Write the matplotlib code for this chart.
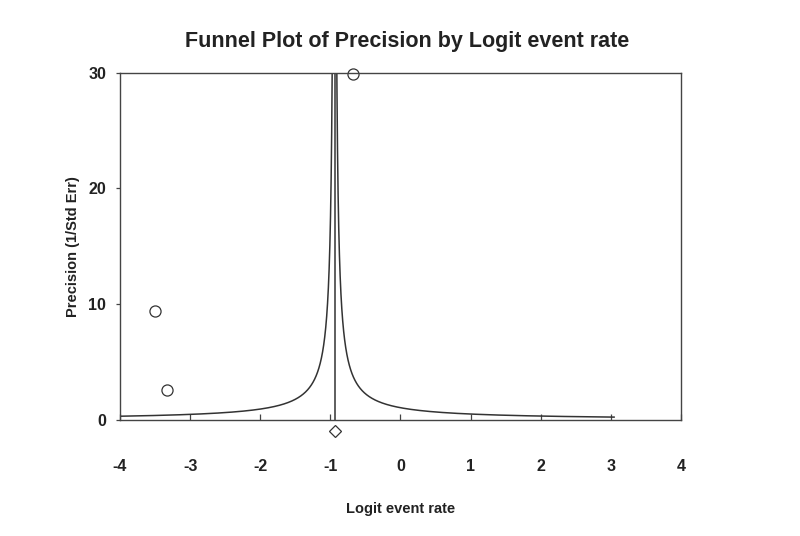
import numpy as np
import matplotlib
matplotlib.use('Agg')
import matplotlib.pyplot as plt

# studies: logit event rate and precision (1/SE)
logit = [-3.50, -3.33, -0.67]
precision = [9.4, 2.6, 29.9]

mean_logit = -0.94
diamond_y = -0.95
funnel_right_end = 3.05

xticks = [-4, -3, -2, -1, 0, 1, 2, 3, 4]
yticks = [0, 10, 20, 30]

plt.rcParams['font.family'] = ['Liberation Sans', 'DejaVu Sans']
plt.rcParams['axes.unicode_minus'] = False
ink = '#333333'

fig = plt.figure(figsize=(8, 5.36), dpi=100)
ax = fig.add_axes([0.15, 0.2164, 0.701, 0.6483])

# funnel lines: x = mean +/- 1/precision
p = np.geomspace(0.05, 30, 6000)
left = mean_logit - 1.0 / p
right = mean_logit + 1.0 / p
ml = left >= -4
mr = right <= funnel_right_end
ax.plot(left[ml], p[ml], color=ink, lw=1.1)
ax.plot(right[mr], p[mr], color=ink, lw=1.1)
ax.plot([mean_logit, mean_logit], [0, 30], color=ink, lw=1.1)

ax.plot(logit, precision, 'o', ms=8, mfc='white', mec=ink, mew=0.9, clip_on=False)
ax.plot([mean_logit], [diamond_y], 'D', ms=6, mfc='white', mec=ink, mew=0.9, clip_on=False)

ax.set_xlim(-4, 4)
ax.set_ylim(0, 30)
ax.set_xticks(xticks)
ax.set_yticks(yticks)
for s in ax.spines.values():
    s.set_color('#444444')
    s.set_linewidth(1.0)
ax.tick_params(axis='x', direction='in', length=4, width=0.9, color='#444444', pad=28)
ax.tick_params(axis='y', direction='out', length=3, width=0.9, color='#444444', pad=7)
for lab in ax.get_xticklabels() + ax.get_yticklabels():
    lab.set_fontweight('bold')
    lab.set_fontsize(11.5)
    lab.set_color('#222222')

ax.set_xlabel('Logit event rate', fontweight='bold', fontsize=10.5, color='#222222', labelpad=20)
ax.set_ylabel('Precision (1/Std Err)', fontweight='bold', fontsize=10.5, color='#222222', labelpad=6)
fig.text(0.509, 0.923, 'Funnel Plot of Precision by Logit event rate', ha='center', va='center',
         fontweight='bold', fontsize=15.5, color='#222222')

fig.savefig('out.png', dpi=100)
